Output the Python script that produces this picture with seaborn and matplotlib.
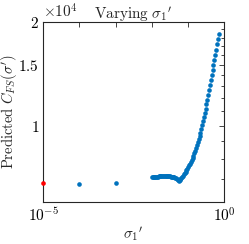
import matplotlib
matplotlib.use("Agg")
import matplotlib.pyplot as plt
import seaborn as sns
import pandas as pd
from matplotlib.ticker import FixedLocator, FixedFormatter, NullFormatter

# isolated low sigma values (first one is the reference point, drawn red)
sigma_low = [1e-5, 1e-4, 1e-3]
cfs_low = [6808, 6790, 6835]

# dense sweep of sigma_1'
sigma_sweep = [
    0.01000, 0.01057, 0.01117, 0.01180, 0.01247, 0.01318, 0.01393, 0.01472,
    0.01556, 0.01644, 0.01738, 0.01837, 0.01941, 0.02051, 0.02168, 0.02291,
    0.02421, 0.02559, 0.02704, 0.02858, 0.03020, 0.03192, 0.03373, 0.03565,
    0.03767, 0.03981, 0.04207, 0.04446, 0.04699, 0.04966, 0.05248, 0.05546,
    0.05861, 0.06194, 0.06546, 0.06918, 0.07311, 0.07727, 0.08166, 0.08630,
    0.09120, 0.09638, 0.10186, 0.10765, 0.11376, 0.12023, 0.12706, 0.13428,
    0.14191, 0.14997, 0.15849, 0.16749, 0.17701, 0.18707, 0.19770, 0.20893,
    0.22080, 0.23335, 0.24660, 0.26062, 0.27542, 0.29107, 0.30761, 0.32509,
    0.34356, 0.36308, 0.38371, 0.40551, 0.42855, 0.45290, 0.47863, 0.50582,
    0.53456, 0.56494, 0.59704, 0.63096, 0.66681, 0.70469,
]
cfs_sweep = [
    7090, 7094, 7098, 7103, 7108, 7113, 7118, 7123,
    7128, 7133, 7137, 7141, 7144, 7146, 7147, 7147,
    7146, 7144, 7141, 7137, 7132, 7126, 7119, 7111,
    7102, 7092, 7081, 7070, 7050, 7020, 6980, 6934,
    6974, 7018, 7065, 7115, 7170, 7230, 7292, 7360,
    7430, 7506, 7586, 7671, 7760, 7852, 7951, 8054,
    8176, 8307, 8448, 8601, 8765, 8941, 9130, 9332,
    9546, 9777, 10023, 10285, 10566, 10864, 11182, 11527,
    11888, 12269, 12668, 13090, 13531, 13994, 14482, 14987,
    15510, 16051, 16612, 17193, 17793, 18414,
]

x_ticks = [1e-5, 1e-4, 1e-3, 1e-2, 1e-1, 1e0]
x_labels = [r"$10^{-5}$", "", "", "", "", r"$10^{0}$"]
y_ticks = [1e4, 1.5e4, 2e4]
y_labels = [r"$1$", r"$1.5$", r"$2$"]
y_minor = [6000, 7000, 8000, 9000, 11000, 12000, 13000, 14000,
           16000, 17000, 18000, 19000]

blue = "#0072BD"
fs = 11

sns.set_style("white")
plt.rcParams["mathtext.fontset"] = "cm"
plt.rcParams["font.family"] = ["DejaVu Serif"]
plt.rcParams["font.size"] = fs

df_blue = pd.DataFrame({"sigma": sigma_low[1:] + sigma_sweep,
                        "cfs": cfs_low[1:] + cfs_sweep})
df_red = pd.DataFrame({"sigma": sigma_low[:1], "cfs": cfs_low[:1]})

fig = plt.figure(figsize=(2.49, 2.44), dpi=100)
ax = fig.add_axes([0.174, 0.171, 0.726, 0.740])

sns.scatterplot(data=df_blue, x="sigma", y="cfs", ax=ax, color=blue,
                s=11, linewidth=0, legend=False)
sns.scatterplot(data=df_red, x="sigma", y="cfs", ax=ax, color="#FF0000",
                s=11, linewidth=0, legend=False, clip_on=False, zorder=5)

ax.set_xscale("log")
ax.set_yscale("log")
ax.set_xlim(1e-5, 1e0)
ax.set_ylim(6000, 20000)

ax.xaxis.set_major_locator(FixedLocator(x_ticks))
ax.xaxis.set_major_formatter(FixedFormatter(x_labels))
ax.xaxis.set_minor_locator(FixedLocator([]))
ax.yaxis.set_major_locator(FixedLocator(y_ticks))
ax.yaxis.set_major_formatter(FixedFormatter(y_labels))
ax.yaxis.set_minor_locator(FixedLocator(y_minor))
ax.yaxis.set_minor_formatter(NullFormatter())

ax.tick_params(which="both", direction="in", top=True, right=True,
               colors="#262626", labelcolor="black", width=0.6)
ax.tick_params(which="major", length=3.5, labelsize=fs, pad=3)
ax.tick_params(which="minor", length=2)
for sp in ax.spines.values():
    sp.set_color("#262626")
    sp.set_linewidth(0.8)

ax.set_title(r"$\mathrm{Varying}\ \sigma_1{}'$", fontsize=fs, pad=2)
ax.set_xlabel(r"$\sigma_1{}'$", fontsize=fs, labelpad=0)
ax.set_ylabel(r"$\mathrm{Predicted}\ C_{FS}(\sigma')$", fontsize=10.5)
ax.yaxis.set_label_coords(-0.135, 0.5)
ax.text(0.0, 1.005, r"$\times 10^4$", transform=ax.transAxes,
        ha="left", va="bottom", fontsize=fs)

fig.savefig("out.png", dpi=100)
